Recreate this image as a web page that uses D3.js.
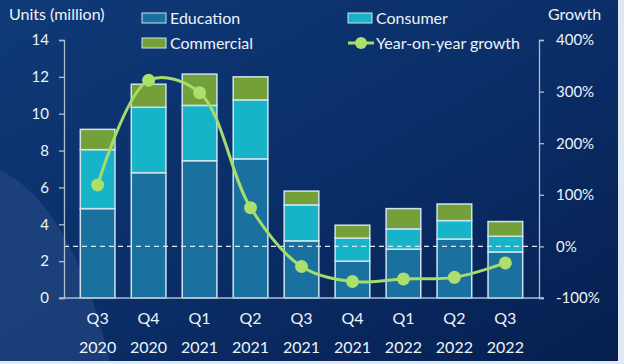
<!DOCTYPE html>
<html>
<head>
<meta charset="utf-8">
<script src="https://cdn.jsdelivr.net/npm/d3@7"></script>
<style>
  body { margin: 0; background: #dfe9f3; }
  svg { display: block; }
  text { font-family: Lato, "Open Sans", sans-serif; fill: #eef3f8; }
</style>
</head>
<body>
<script>
const quarters = ['Q3|2020', 'Q4|2020', 'Q1|2021', 'Q2|2021', 'Q3|2021', 'Q4|2021', 'Q1|2022', 'Q2|2022', 'Q3|2022'];
const education = [4.85, 6.8, 7.45, 7.55, 3.1, 2.0, 2.65, 3.2, 2.5];
const consumer = [3.2, 3.55, 3.0, 3.2, 1.95, 1.25, 1.1, 1.0, 0.85];
const commercial = [1.1, 1.25, 1.7, 1.25, 0.75, 0.7, 1.1, 0.9, 0.8];
const growth = [119, 322, 298, 75, -39, -68, -63, -60, -32];
const unitTicks = [0, 2, 4, 6, 8, 10, 12, 14];
const growthTicks = [-100, 0, 100, 200, 300, 400];

const W = 624, H = 364;
const plot = { left: 64, right: 539, top: 40, bottom: 298 };

const svg = d3.select('body').append('svg')
  .attr('width', W)
  .attr('height', H);

const defs = svg.append('defs');
const bg = defs.append('linearGradient').attr('id', 'bg')
  .attr('x1', 0).attr('y1', 0).attr('x2', 1).attr('y2', 1);
bg.append('stop').attr('offset', '0%').attr('stop-color', '#0f3a78');
bg.append('stop').attr('offset', '55%').attr('stop-color', '#0a2d66');
bg.append('stop').attr('offset', '100%').attr('stop-color', '#061f50');

svg.append('rect')
  .attr('width', 618).attr('height', 361)
  .attr('fill', 'url(#bg)');

// lighter swoosh in the lower left
svg.append('path')
  .attr('d', 'M0,170 C40,190 80,240 110,361 L0,361 Z')
  .attr('fill', '#2a4d86')
  .attr('opacity', 0.55);

const x = d3.scaleBand().domain(quarters).range([plot.left, plot.right]).padding(0.32);
const y = d3.scaleLinear().domain([0, 14]).range([plot.bottom, plot.top]);
const y2 = d3.scaleLinear().domain([-100, 400]).range([plot.bottom, plot.top]);

const stacked = d3.stack().keys(['education', 'consumer', 'commercial'])(
  quarters.map((q, i) => ({ q, education: education[i], consumer: consumer[i], commercial: commercial[i] }))
);
const colors = { education: '#1a719f', consumer: '#17b3c8', commercial: '#74a03a' };

svg.append('g')
  .selectAll('g')
  .data(stacked)
  .enter()
  .append('g')
  .attr('fill', (d) => colors[d.key])
  .selectAll('rect')
  .data((d) => d)
  .enter()
  .append('rect')
  .attr('x', (d) => x(d.data.q))
  .attr('y', (d) => y(d[1]))
  .attr('width', x.bandwidth())
  .attr('height', (d) => y(d[0]) - y(d[1]))
  .attr('stroke', '#cfe3ee')
  .attr('stroke-width', 1.5);

// 0% reference line
svg.append('line')
  .attr('x1', plot.left).attr('x2', plot.right)
  .attr('y1', y2(0)).attr('y2', y2(0))
  .attr('stroke', '#dfeaf4')
  .attr('stroke-width', 1.3)
  .attr('stroke-dasharray', '5,4');

// axes
const axisColor = '#aebdd0';
const leftAxis = svg.append('g')
  .attr('transform', `translate(${plot.left},0)`)
  .call(d3.axisLeft(y).tickValues(unitTicks).tickSize(5).tickPadding(10));
const rightAxis = svg.append('g')
  .attr('transform', `translate(${plot.right},0)`)
  .call(d3.axisRight(y2).tickValues(growthTicks).tickSize(5).tickPadding(12).tickFormat((d) => d + '%'));
[leftAxis, rightAxis].forEach((a) => {
  a.select('.domain').attr('stroke', axisColor).attr('stroke-width', 1.3);
  a.selectAll('.tick line').attr('stroke', axisColor).attr('stroke-width', 1.3);
  a.selectAll('.tick text').style('font-size', '15px').attr('fill', '#eef3f8');
});

svg.append('line')
  .attr('x1', plot.left - 5).attr('x2', plot.right + 5)
  .attr('y1', plot.bottom).attr('y2', plot.bottom)
  .attr('stroke', axisColor).attr('stroke-width', 1.3);

// category labels
const xl = svg.append('g').selectAll('text')
  .data(quarters)
  .enter()
  .append('text')
  .attr('text-anchor', 'middle')
  .style('font-size', '16px');
xl.append('tspan')
  .attr('x', (d) => x(d) + x.bandwidth() / 2)
  .attr('y', 324)
  .text((d) => d.split('|')[0]);
xl.append('tspan')
  .attr('x', (d) => x(d) + x.bandwidth() / 2)
  .attr('y', 353)
  .text((d) => d.split('|')[1]);

// growth line
const cx = (d, i) => x(quarters[i]) + x.bandwidth() / 2;
svg.append('path')
  .datum(growth)
  .attr('fill', 'none')
  .attr('stroke', '#a6dc6a')
  .attr('stroke-width', 3)
  .attr('d', d3.line().x(cx).y((d) => y2(d)).curve(d3.curveCatmullRom.alpha(0.5)));
svg.append('g').selectAll('circle')
  .data(growth)
  .enter()
  .append('circle')
  .attr('cx', cx)
  .attr('cy', (d) => y2(d))
  .attr('r', 6.5)
  .attr('fill', '#acdf6c');

// axis titles
svg.append('text').attr('x', 9).attr('y', 20).style('font-size', '16px').text('Units (million)');
svg.append('text').attr('x', 548).attr('y', 20).style('font-size', '16px').text('Growth');

// legend
const legend = [
  { label: 'Education', color: colors.education, x: 142, y: 18 },
  { label: 'Consumer', color: colors.consumer, x: 348, y: 18 },
  { label: 'Commercial', color: colors.commercial, x: 142, y: 43 }
];
const lg = svg.append('g').selectAll('g').data(legend).enter().append('g');
lg.append('rect')
  .attr('x', (d) => d.x).attr('y', (d) => d.y - 5)
  .attr('width', 24).attr('height', 10)
  .attr('fill', (d) => d.color)
  .attr('stroke', '#cfe3ee').attr('stroke-width', 1);
lg.append('text')
  .attr('x', (d) => d.x + 28).attr('y', (d) => d.y + 6)
  .style('font-size', '16px')
  .text((d) => d.label);

svg.append('line')
  .attr('x1', 348).attr('x2', 374).attr('y1', 43).attr('y2', 43)
  .attr('stroke', '#a6dc6a').attr('stroke-width', 3);
svg.append('circle').attr('cx', 361).attr('cy', 43).attr('r', 6).attr('fill', '#acdf6c');
svg.append('text').attr('x', 376).attr('y', 49).style('font-size', '16px').text('Year-on-year growth');
</script>
</body>
</html>
